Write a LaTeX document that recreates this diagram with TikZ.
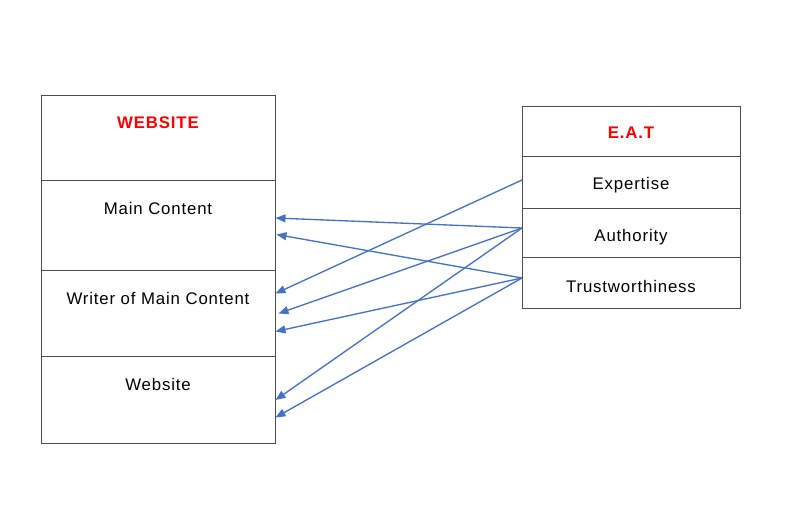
\documentclass[tikz,border=0pt]{standalone}
\usepackage{fontspec}
\setmainfont{Liberation Sans}[LetterSpace=5]
\usetikzlibrary{arrows.meta,calc}
\definecolor{arrowblue}{HTML}{4472C4}
\definecolor{boxgray}{HTML}{4D4D4D}
\begin{document}
\begin{tikzpicture}[x=0.75pt,y=-0.75pt,
  cell/.style={draw=boxgray,line width=0.75pt,rectangle,inner sep=0pt,outer sep=0pt,fill=white},
  lbl/.style={anchor=base,inner sep=0pt,font=\fontsize{12.6pt}{15pt}\selectfont,text=black},
  ttl/.style={anchor=base,inner sep=0pt,font=\fontsize{12.6pt}{15pt}\selectfont\bfseries,text=red},
  link/.style={draw=arrowblue,line width=1pt,-{Triangle[length=7.5pt,width=6pt]}}]
\useasboundingbox (0,0) rectangle (800,531);
% left box
\node[cell,minimum width=175.5pt,minimum height=63.75pt] (lw) at (158,138.5) {};
\node[cell,minimum width=175.5pt,minimum height=66.75pt] (lmc) at (158,225.5) {};
\node[cell,minimum width=175.5pt,minimum height=64.5pt] (lwr) at (158,313) {};
\node[cell,minimum width=175.5pt,minimum height=65.25pt] (lws) at (158,399.5) {};
\node[ttl] (tw) at (158,129) {WEBSITE};
\node[lbl] (tmc) at (158,215) {Main Content};
\node[lbl] (twr) at (158,304) {Writer of Main Content};
\node[lbl] (tws) at (158,390) {Website};
% right box
\node[cell,minimum width=163.5pt,minimum height=37.5pt] (re) at (631,132) {};
\node[cell,minimum width=163.5pt,minimum height=39pt] (rx) at (631,183) {};
\node[cell,minimum width=163.5pt,minimum height=36.75pt] (ra) at (631,233.5) {};
\node[cell,minimum width=163.5pt,minimum height=37.5pt] (rt) at (631,283) {};
\node[ttl] (te) at (631,139) {E.A.T};
\node[lbl] (tx) at (631,190) {Expertise};
\node[lbl] (ta) at (631,242) {Authority};
\node[lbl] (tt) at (631,292) {Trustworthiness};
% connector points
\coordinate (sx) at (522,180);
\coordinate (sa) at (522,228);
\coordinate (st) at (522,278);
\coordinate (e1) at (275.5,218);
\coordinate (e2) at (276.5,234.5);
\coordinate (e3) at (275.5,293.5);
\coordinate (e4) at (278.5,313.5);
\coordinate (e5) at (275.5,331.5);
\coordinate (e6) at (275.5,400);
\coordinate (e7) at (275.5,417.5);
\draw[link] (sx) -- (e3);
\draw[link] (sa) -- (e1);
\draw[link] (sa) -- (e4);
\draw[link] (sa) -- (e6);
\draw[link] (st) -- (e2);
\draw[link] (st) -- (e5);
\draw[link] (st) -- (e7);
\end{tikzpicture}
\end{document}
